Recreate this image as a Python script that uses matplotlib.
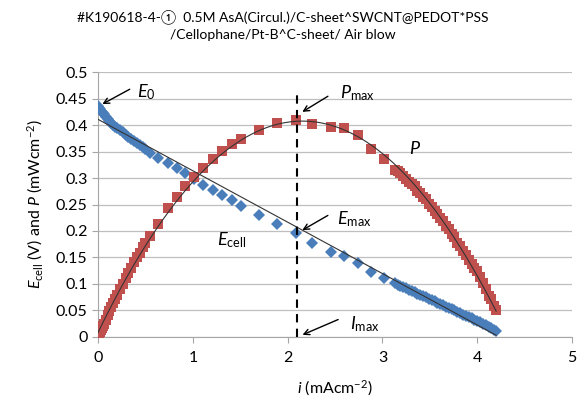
import numpy as np
import matplotlib.pyplot as plt

plt.rcParams['font.family'] = ['Lato', 'DejaVu Sans']
plt.rcParams['mathtext.fontset'] = 'custom'
plt.rcParams['mathtext.it'] = 'Lato:italic'
plt.rcParams['mathtext.rm'] = 'Lato'

# current density i (mA/cm2), cell voltage E (V), power density P (mW/cm2)
i_vals = [0.00, 0.01, 0.02, 0.03, 0.04, 0.05, 0.06, 0.08, 0.10, 0.12, 0.14, 0.16,
          0.18, 0.20, 0.23, 0.26, 0.29, 0.32, 0.35, 0.38, 0.41, 0.44, 0.47, 0.50,
          0.55, 0.63, 0.74, 0.83, 0.92, 1.01, 1.11, 1.21, 1.31, 1.41, 1.51, 1.70,
          1.89, 2.09, 2.26, 2.46, 2.59, 2.74, 2.88, 3.02, 3.13, 3.16, 3.19, 3.22,
          3.25, 3.28, 3.31, 3.34, 3.37, 3.40, 3.43, 3.46, 3.49, 3.52, 3.55, 3.58,
          3.61, 3.64, 3.67, 3.70, 3.73, 3.76, 3.79, 3.82, 3.85, 3.88, 3.91, 3.94,
          3.97, 4.00, 4.03, 4.06, 4.09, 4.12, 4.15, 4.18, 4.20]
E_vals = [0.435, 0.432, 0.430, 0.427, 0.425, 0.422, 0.420, 0.416, 0.412, 0.408, 0.404, 0.400,
          0.397, 0.394, 0.390, 0.386, 0.382, 0.378, 0.374, 0.370, 0.366, 0.362, 0.359, 0.355,
          0.347, 0.338, 0.328, 0.318, 0.309, 0.299, 0.287, 0.277, 0.268, 0.258, 0.247, 0.230,
          0.214, 0.196, 0.178, 0.161, 0.152, 0.139, 0.123, 0.111, 0.101, 0.099, 0.097, 0.094,
          0.092, 0.089, 0.087, 0.085, 0.082, 0.080, 0.077, 0.075, 0.072, 0.070, 0.067, 0.065,
          0.062, 0.060, 0.057, 0.055, 0.052, 0.050, 0.047, 0.045, 0.042, 0.040, 0.037, 0.035,
          0.033, 0.031, 0.028, 0.025, 0.022, 0.019, 0.017, 0.014, 0.012]
P_vals = [0.000, 0.004, 0.009, 0.013, 0.017, 0.021, 0.025, 0.033, 0.041, 0.049, 0.057, 0.064,
          0.071, 0.079, 0.090, 0.100, 0.111, 0.121, 0.131, 0.141, 0.150, 0.159, 0.169, 0.178,
          0.191, 0.213, 0.243, 0.264, 0.284, 0.302, 0.319, 0.335, 0.351, 0.364, 0.373, 0.391,
          0.404, 0.410, 0.402, 0.396, 0.394, 0.381, 0.354, 0.335, 0.316, 0.313, 0.309, 0.303,
          0.299, 0.292, 0.288, 0.284, 0.276, 0.272, 0.264, 0.260, 0.251, 0.246, 0.238, 0.233,
          0.224, 0.218, 0.209, 0.204, 0.194, 0.188, 0.178, 0.172, 0.162, 0.155, 0.145, 0.138,
          0.131, 0.124, 0.113, 0.102, 0.090, 0.078, 0.071, 0.059, 0.050]

i_arr = np.array(i_vals)
E_arr = np.array(E_vals)
P_arr = np.array(P_vals)

fig = plt.figure(figsize=(5.78, 4.03), dpi=100)
ax = fig.add_axes([0.1696, 0.1638, 0.82, 0.6575])

ax.plot(i_arr, E_arr, 'D', color='#4A7EBB', markersize=6.5, markeredgewidth=0, zorder=3)
ax.plot(i_arr, P_arr, 's', color='#C0504D', markersize=7.5, markeredgewidth=0, zorder=4)

# Excel-like trendlines
xx = np.linspace(0, 4.2, 200)
cE = np.polyfit(i_arr, E_arr, 1)
cP = np.polyfit(i_arr, P_arr, 2)
ax.plot(xx, np.polyval(cE, xx), color='#333333', lw=0.8, zorder=5)
ax.plot(xx, np.polyval(cP, xx), color='#333333', lw=0.8, zorder=5)

# max-power marker line
ax.plot([2.1, 2.1], [0, 0.46], color='black', lw=1.5, ls=(0, (4, 3)), zorder=6)

ax.set_xlim(0, 5)
ax.set_ylim(0, 0.5)
ax.set_xticks(np.arange(0, 6, 1))
ax.set_yticks(np.arange(0, 0.51, 0.05))
ax.set_yticklabels(['0', '0.05', '0.1', '0.15', '0.2', '0.25', '0.3', '0.35', '0.4', '0.45', '0.5'])
ax.yaxis.grid(True, color='#BFBFBF', lw=0.9)
ax.set_axisbelow(True)
for s in ['top', 'right']:
    ax.spines[s].set_visible(False)
for s in ['left', 'bottom']:
    ax.spines[s].set_color('#A6A6A6')
ax.tick_params(axis='both', colors='#A6A6A6', labelcolor='black', labelsize=11.5, length=4)
ax.tick_params(axis='x', pad=6)

ax.set_xlabel(r'$\it{i}$ (mAcm$^{-2}$)', fontsize=11.5, labelpad=10)
ax.set_ylabel(r'$E_{\rm cell}$ (V) and $P$ (mWcm$^{-2}$)', fontsize=11.5, labelpad=8)

fig.suptitle('#K190618-4-\u2460  0.5M AsA(Circul.)/C-sheet^SWCNT@PEDOT*PSS\n'
             '/Cellophane/Pt-B^C-sheet/ Air blow', fontsize=10, y=0.975, x=0.49,
             linespacing=1.4, family=['Lato', 'Noto Sans CJK JP', 'DejaVu Sans'])

arrow = dict(arrowstyle='->', color='black', lw=1.0)
ax.annotate('', xy=(0.02, 0.437), xytext=(0.36, 0.47), arrowprops=arrow, zorder=7)
ax.text(0.41, 0.462, r'$E_0$', fontsize=13, va='center', ha='left')
ax.annotate('', xy=(2.13, 0.422), xytext=(2.45, 0.457), arrowprops=arrow, zorder=7)
ax.text(2.55, 0.46, r'$P_{\rm max}$', fontsize=13, va='center', ha='left')
ax.annotate('', xy=(2.13, 0.199), xytext=(2.45, 0.232), arrowprops=arrow, zorder=7)
ax.text(2.52, 0.222, r'$E_{\rm max}$', fontsize=13, va='center', ha='left')
ax.annotate('', xy=(2.13, 0.002), xytext=(2.56, 0.035), arrowprops=arrow, zorder=7)
ax.text(2.66, 0.024, r'$I_{\rm max}$', fontsize=13, va='center', ha='left')
ax.text(1.26, 0.183, r'$E_{\rm cell}$', fontsize=13, va='center', ha='left')
ax.text(3.28, 0.356, r'$P$', fontsize=13, va='center', ha='left')

fig.savefig('out.png', dpi=100)
